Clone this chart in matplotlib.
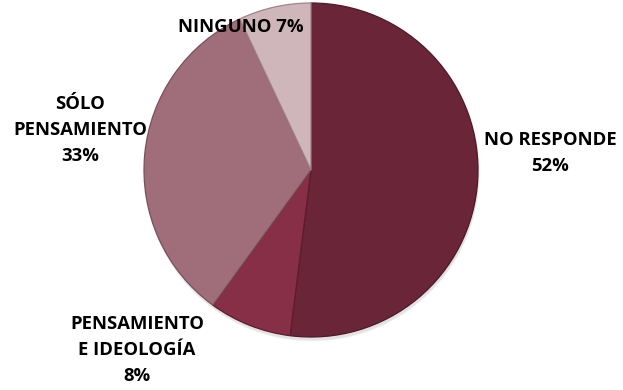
import matplotlib
matplotlib.use('Agg')
import matplotlib.pyplot as plt
from matplotlib.patches import Circle

plt.rcParams['font.family'] = ['Open Sans', 'DejaVu Sans']

# respuestas (porcentaje)
categorias = ['NO RESPONDE', 'PENSAMIENTO\nE IDEOLOGÍA', 'SÓLO\nPENSAMIENTO', 'NINGUNO']
valores = [52, 8, 33, 7]
colores = ['#6B2539', '#862F46', '#A06E7B', '#CFB6BB']
bordes = ['#4E1827', '#5E1D2E', '#7A4F5B', '#9E8489']

W, H = 623, 390
fig = plt.figure(figsize=(W / 100, H / 100), dpi=100)
ax = fig.add_axes([0, 0, 1, 1])

cx, cy, r = 311, H - 170, 167

# sombra suave bajo la torta
for k, a in enumerate([0.05, 0.05, 0.05, 0.06]):
    ax.add_patch(Circle((cx + 1, cy - 2 - k), r + 1 - k * 0.5, color='#7a7a7a',
                        alpha=a, lw=0, zorder=0))

wedges, _ = ax.pie(valores, colors=colores, startangle=90, counterclock=False,
                   center=(cx, cy), radius=r,
                   wedgeprops=dict(linewidth=0.9, zorder=2))
for w, ec in zip(wedges, bordes):
    w.set_edgecolor(ec)

# etiquetas de datos
pos = [(550, 153), (137, 350), (80, 130), (241, 27)]
for cat, v, (x, y) in zip(categorias, valores, pos):
    if cat == 'NINGUNO':
        txt = f'{cat} {v}%'
    else:
        txt = f'{cat}\n{v}%'
    ax.text(x, H - y, txt, ha='center', va='center', fontsize=13.3,
            fontweight='bold', color='black', linespacing=1.55, zorder=5)

ax.set_xlim(0, W)
ax.set_ylim(0, H)
ax.set_aspect('equal')
ax.axis('off')

fig.savefig('out.png', dpi=100, facecolor='white')
